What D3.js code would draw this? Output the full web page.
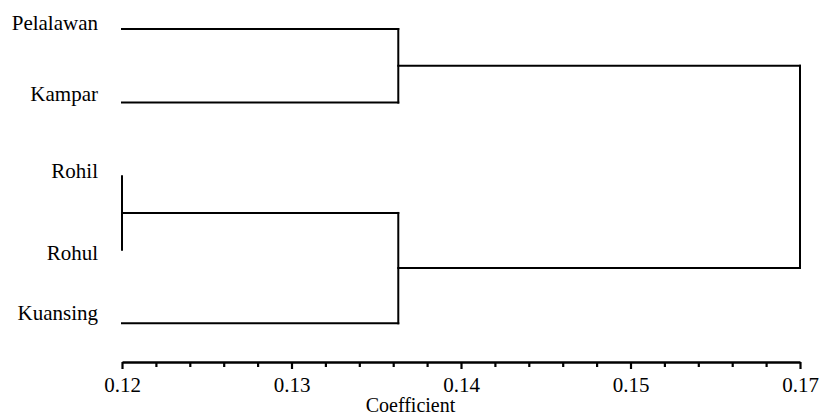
<!DOCTYPE html>
<html>
<head>
<meta charset="utf-8">
<script src="https://cdn.jsdelivr.net/npm/d3@7"></script>
<style>
  html, body { margin: 0; padding: 0; background: #fff; }
  svg { display: block; }
  text { font-family: "Liberation Serif", "Times New Roman", serif; fill: #000; }
</style>
</head>
<body>
<svg id="chart" width="821" height="416"></svg>
<script>
// ---- data ----
const leaves = ["Pelalawan", "Kampar", "Rohil", "Rohul", "Kuansing"];
const mergeName   = ["C1", "C2", "C3", "C4"];
const mergeLeft   = ["Pelalawan", "Rohil", "C2", "C1"];
const mergeRight  = ["Kampar", "Rohul", "Kuansing", "C3"];
const mergeHeight = [0.1363, 0.12, 0.1363, 0.17];
const leafHeight = 0.12;
const majorTicks = [0.12, 0.13, 0.14, 0.15, 0.17];
const majorTickLabels = ["0.12", "0.13", "0.14", "0.15", "0.17"];
const minorTicks = [0.122, 0.124, 0.126, 0.128, 0.132, 0.134, 0.136, 0.138,
                    0.142, 0.144, 0.146, 0.148, 0.154, 0.158, 0.162, 0.166];
const axisTitle = "Coefficient";

// ---- layout ----
const svg = d3.select("#chart");
const axisY = 362;
const x = d3.scaleLinear()
  .domain([0.12, 0.15, 0.17])
  .range([122, 630.5, 800]);
const y = d3.scalePoint()
  .domain(leaves)
  .range([29, 323.3]);
const labelDy = [1, -2, 2, 10, -3];   // baseline offsets of the leaf labels

// node positions
const nodeY = {}, nodeH = {};
leaves.forEach(l => { nodeY[l] = y(l); nodeH[l] = leafHeight; });
mergeName.forEach((n, i) => {
  nodeY[n] = (nodeY[mergeLeft[i]] + nodeY[mergeRight[i]]) / 2;
  nodeH[n] = mergeHeight[i];
});

const g = svg.append("g")
  .attr("fill", "none")
  .attr("stroke", "#000")
  .attr("stroke-width", 2)
  .attr("stroke-linecap", "square");

// horizontal branches for each child of each merge
const branches = [];
mergeName.forEach((n, i) => {
  [mergeLeft[i], mergeRight[i]].forEach(c => {
    branches.push({ y: nodeY[c], x0: nodeH[c], x1: mergeHeight[i] });
  });
});
g.selectAll("line.h").data(branches.filter(b => b.x1 > b.x0)).join("line")
  .attr("class", "h")
  .attr("x1", d => x(d.x0)).attr("x2", d => x(d.x1))
  .attr("y1", d => d.y).attr("y2", d => d.y);

// vertical connectors
g.selectAll("line.v").data(mergeName).join("line")
  .attr("class", "v")
  .attr("x1", (n, i) => x(mergeHeight[i])).attr("x2", (n, i) => x(mergeHeight[i]))
  .attr("y1", (n, i) => nodeY[mergeLeft[i]])
  .attr("y2", (n, i) => nodeY[mergeRight[i]]);

// leaf labels
svg.append("g").selectAll("text").data(leaves).join("text")
  .attr("x", 98)
  .attr("y", (d, i) => y(d) + labelDy[i])
  .attr("text-anchor", "end")
  .attr("font-size", 21)
  .text(d => d);

// axis
const axisG = svg.append("g").attr("transform", `translate(0,${axisY})`);
axisG.call(d3.axisBottom(x).tickValues(minorTicks).tickSize(5).tickSizeOuter(0).tickFormat(""));
const majorG = svg.append("g").attr("transform", `translate(0,${axisY})`);
majorG.call(d3.axisBottom(x).tickValues(majorTicks).tickSize(7).tickSizeOuter(0)
  .tickFormat((d, i) => majorTickLabels[i]));
majorG.select(".domain").remove();
axisG.select(".domain").attr("stroke-width", 2.6).attr("stroke", "#000");
svg.selectAll(".tick line").attr("stroke", "#000").attr("stroke-width", 2.2);
majorG.selectAll(".tick text")
  .attr("y", 29.5).attr("dy", 0)
  .attr("font-size", 21)
  .attr("font-family", "Liberation Serif, Times New Roman, serif")
  .attr("fill", "#000");

svg.append("text")
  .attr("x", 410.5)
  .attr("y", 412)
  .attr("text-anchor", "middle")
  .attr("font-size", 20)
  .text(axisTitle);
</script>
</body>
</html>
